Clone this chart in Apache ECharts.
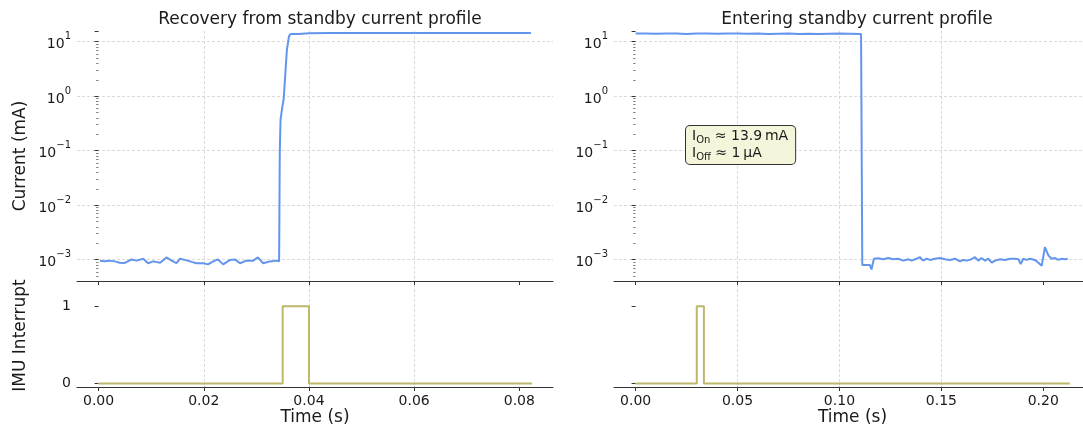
<!DOCTYPE html>
<html>
<head>
<meta charset="utf-8">
<script src="https://cdn.jsdelivr.net/npm/echarts@6/dist/echarts.min.js"></script>
<style>
  html, body { margin: 0; padding: 0; background: #fff; }
  #chart { width: 1083px; height: 430px; }
</style>
</head>
<body>
<div id="chart"></div>
<script>
// --- recovery from standby (left column) ---
const recoveryTime = [0.00025, 0.0012, 0.00215, 0.0031, 0.0040, 0.0050, 0.0063, 0.0072, 0.0085, 0.0094,
  0.0104, 0.0117, 0.0129, 0.0139, 0.0148, 0.0155, 0.0164, 0.0177, 0.0186, 0.0199,
  0.0208, 0.0218, 0.0227, 0.0237, 0.0250, 0.0259, 0.0269, 0.0281, 0.0294, 0.0303,
  0.0313, 0.0326, 0.0338, 0.03433, 0.03445, 0.0346, 0.0349, 0.0352, 0.0355, 0.0358,
  0.0362, 0.0365, 0.0380, 0.0400, 0.0440, 0.0480, 0.0520, 0.0560, 0.0600, 0.0640,
  0.0680, 0.0720, 0.0760, 0.0800, 0.0822]
const recoveryCurrent = [0.00096, 0.00094, 0.00096, 0.00093, 0.00088, 0.00087, 0.00101, 0.00096, 0.00104, 0.00086,
  0.00093, 0.00088, 0.0011, 0.00096, 0.00086, 0.00104, 0.00099, 0.00091, 0.00086, 0.00086,
  0.00082, 0.00093, 0.00101, 0.00082, 0.00099, 0.00101, 0.00086, 0.00096, 0.00096, 0.0011,
  0.00086, 0.00093, 0.00096, 0.00093, 0.09, 0.37, 0.6, 0.9, 2.5, 7,
  12.5, 13.8, 13.9, 14.3, 14.4, 14.5, 14.4, 14.5, 14.4, 14.5,
  14.5, 14.4, 14.5, 14.5, 14.5]
const recoveryIrqTime = [0, 0.035, 0.040, 0.0824]
const recoveryIrq = [0, 1, 0, 0]

// --- entering standby (right column) ---
const enterTime = [0, 0.005, 0.010, 0.015, 0.020, 0.025, 0.030, 0.035, 0.040, 0.045,
  0.050, 0.055, 0.060, 0.065, 0.070, 0.075, 0.080, 0.085, 0.090, 0.095,
  0.100, 0.105, 0.1106, 0.1112, 0.1149, 0.1157, 0.1169, 0.1174, 0.1190, 0.1215,
  0.1239, 0.1264, 0.1288, 0.1313, 0.1337, 0.1354, 0.1378, 0.1395, 0.1411, 0.1427,
  0.1444, 0.1468, 0.1493, 0.1517, 0.1542, 0.1567, 0.1591, 0.1607, 0.1624, 0.1648,
  0.1665, 0.1681, 0.1697, 0.1714, 0.1730, 0.1747, 0.1763, 0.1788, 0.1812, 0.1837,
  0.1861, 0.1878, 0.1889, 0.1902, 0.1918, 0.1935, 0.1959, 0.1976, 0.1992, 0.2008,
  0.2025, 0.2041, 0.2058, 0.2074, 0.2090, 0.2107, 0.2120]
const enterCurrent = [14.1, 14.2, 14.0, 14.2, 14.1, 13.9, 14.2, 14.1, 14.0, 14.2,
  14.1, 14.0, 14.1, 13.9, 14.0, 14.1, 13.9, 14.0, 13.9, 14.0,
  14.1, 14.0, 13.8, 0.0008, 0.0008, 0.00066, 0.00104, 0.00102, 0.00106, 0.00102,
  0.00107, 0.00102, 0.00104, 0.00096, 0.00102, 0.00096, 0.00104, 0.00111, 0.00096, 0.00104,
  0.00099, 0.00104, 0.00107, 0.00102, 0.00099, 0.00104, 0.00093, 0.00099, 0.00096, 0.00102,
  0.00111, 0.00096, 0.00107, 0.00096, 0.00104, 0.00088, 0.00096, 0.00102, 0.00099, 0.00104,
  0.00104, 0.00102, 0.00083, 0.00104, 0.00099, 0.00104, 0.00099, 0.00088, 0.00077, 0.00169,
  0.0012, 0.00104, 0.00107, 0.00099, 0.00104, 0.00102, 0.00104]
const enterIrqTime = [0, 0.030, 0.0335, 0.2130]
const enterIrq = [0, 1, 0, 0]

// ticks
const recoveryTicks = [0, 0.02, 0.04, 0.06, 0.08]
const enterTicks = [0, 0.05, 0.10, 0.15, 0.20]
const irqTicks = [0, 1]

const FONT = 'DejaVu Sans'
const AXIS = '#333'
const GRID = '#d0d0d0'
const TEXT = '#1a1a1a'

const pairs = (xs, ys) => xs.map((x, i) => [x, ys[i]])

const splitLine = {
  show: true,
  showMinLine: false,
  showMaxLine: false,
  lineStyle: { color: GRID, type: [3, 2], width: 0.8 },
}

const xAxis = (gridIndex, min, max, ticks, labels, name) => ({
  type: 'value',
  gridIndex,
  min,
  max,
  splitNumber: 5,
  axisLine: { show: true, onZero: false, lineStyle: { color: AXIS, width: 1 } },
  axisTick: { show: true, length: 4, customValues: ticks, lineStyle: { color: AXIS } },
  axisLabel: {
    show: labels,
    customValues: ticks,
    formatter: (v) => v.toFixed(2),
    fontFamily: FONT,
    fontSize: 14,
    color: TEXT,
    margin: 7,
  },
  splitLine,
  name,
  nameLocation: 'middle',
  nameGap: 17,
  nameTextStyle: { fontFamily: FONT, fontSize: 17, color: TEXT },
})

const powerLabel = (v) => {
  const n = Math.round(Math.log10(v))
  return '{b|10}{s|' + (n < 0 ? '\u2212' + -n : n) + '}'
}

const logAxis = (gridIndex, name) => ({
  type: 'log',
  logBase: 10,
  gridIndex,
  min: 0.000406,
  max: 15.7,
  axisLine: { show: false },
  axisTick: { show: true, length: 4, lineStyle: { color: AXIS } },
  minorTick: { show: true, splitNumber: 9, length: 2.5, lineStyle: { color: AXIS, width: 0.6 } },
  axisLabel: {
    showMinLabel: false,
    showMaxLabel: false,
    formatter: powerLabel,
    margin: 6,
    rich: {
      b: { fontFamily: FONT, fontSize: 14, color: TEXT, lineHeight: 20, verticalAlign: 'bottom' },
      s: { fontFamily: FONT, fontSize: 10, color: TEXT, lineHeight: 14, verticalAlign: 'top' },
    },
  },
  splitLine,
  name,
  nameLocation: 'middle',
  nameGap: 48,
  nameTextStyle: { fontFamily: FONT, fontSize: 17, color: TEXT },
})

const irqAxis = (gridIndex, labels, name) => ({
  type: 'value',
  gridIndex,
  min: -0.045,
  max: 1.29,
  splitNumber: 1,
  axisLine: { show: false },
  axisTick: { show: true, length: 4, customValues: irqTicks, lineStyle: { color: AXIS } },
  axisLabel: { show: labels, customValues: irqTicks, fontFamily: FONT, fontSize: 14, color: TEXT, margin: 6 },
  splitLine,
  name,
  nameLocation: 'middle',
  nameGap: 48,
  nameTextStyle: { fontFamily: FONT, fontSize: 17, color: TEXT },
})

const lineSeries = (idx, data, color, step) => ({
  type: 'line',
  xAxisIndex: idx,
  yAxisIndex: idx,
  data,
  step: step || false,
  showSymbol: false,
  smooth: false,
  lineStyle: { color, width: 2 },
  itemStyle: { color },
})

const option = {
  animation: false,
  backgroundColor: '#fff',
  title: [
    { text: 'Recovery from standby current profile', left: 315, top: 6, textAlign: 'center',
      textStyle: { fontFamily: FONT, fontSize: 17, fontWeight: 'normal', color: TEXT } },
    { text: 'Entering standby current profile', left: 852, top: 6, textAlign: 'center',
      textStyle: { fontFamily: FONT, fontSize: 17, fontWeight: 'normal', color: TEXT } },
  ],
  grid: [
    { left: 77, top: 31, width: 476, height: 250, outerBoundsMode: 'none' },
    { left: 614, top: 31, width: 477, height: 250, outerBoundsMode: 'none' },
    { left: 77, top: 284, width: 476, height: 103, outerBoundsMode: 'none' },
    { left: 614, top: 284, width: 477, height: 103, outerBoundsMode: 'none' },
  ],
  xAxis: [
    xAxis(0, -0.0041, 0.0864, recoveryTicks, false, ''),
    xAxis(1, -0.0106, 0.2234, enterTicks, false, ''),
    xAxis(2, -0.0041, 0.0864, recoveryTicks, true, 'Time (s)'),
    xAxis(3, -0.0106, 0.2234, enterTicks, true, 'Time (s)'),
  ],
  yAxis: [
    logAxis(0, 'Current (mA)'),
    logAxis(1, ''),
    irqAxis(2, true, 'IMU Interrupt'),
    irqAxis(3, false, ''),
  ],
  graphic: [
    {
      type: 'text',
      left: 685,
      top: 125,
      z: 100,
      style: {
        text: 'I{sub|On} \u2248 13.9\u2009mA\nI{sub|Off} \u2248 1\u2009\u03bcA',
        fontFamily: FONT,
        fontSize: 14,
        lineHeight: 17,
        fill: TEXT,
        backgroundColor: '#f5f5dc',
        borderColor: '#333',
        borderWidth: 1,
        borderRadius: 4,
        padding: [2, 7, 2, 6],
        rich: {
          sub: { fontFamily: FONT, fontSize: 10, fill: TEXT, lineHeight: 9, verticalAlign: 'bottom' },
        },
      },
    },
  ],
  series: [
    lineSeries(0, pairs(recoveryTime, recoveryCurrent), '#6495ed'),
    lineSeries(1, pairs(enterTime, enterCurrent), '#6495ed'),
    lineSeries(2, pairs(recoveryIrqTime, recoveryIrq), '#bdb76b', 'end'),
    lineSeries(3, pairs(enterIrqTime, enterIrq), '#bdb76b', 'end'),
  ],
}

const chart = echarts.init(document.getElementById('chart'))
chart.setOption(option)
</script>
</body>
</html>
